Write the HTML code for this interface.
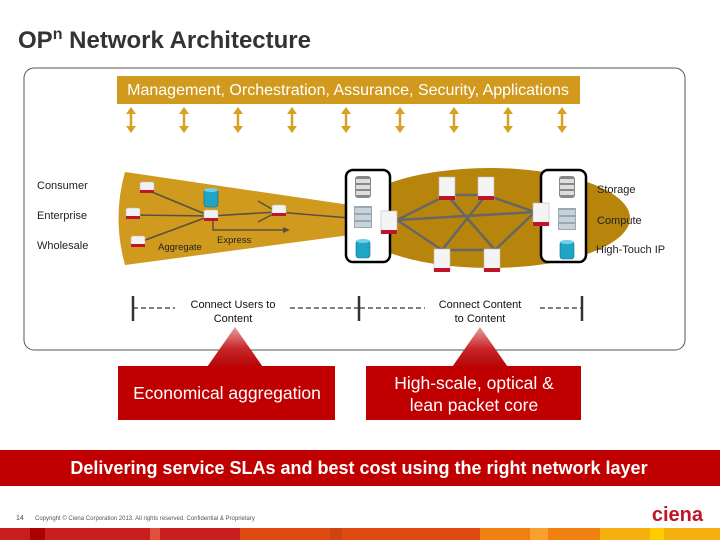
<!DOCTYPE html>
<html><head><style>
body{margin:0;width:720px;height:540px;background:#fff;overflow:hidden;font-family:"Liberation Sans",sans-serif}
</style></head><body>
<svg width="720" height="540" viewBox="0 0 720 540" xmlns="http://www.w3.org/2000/svg" font-family="Liberation Sans, sans-serif">
<defs>
<linearGradient id="tri" x1="0" y1="0" x2="0" y2="1"><stop offset="0" stop-color="#e8a0a0"/><stop offset="0.5" stop-color="#c8262a"/><stop offset="1" stop-color="#b30000"/></linearGradient>
<g id="sw"><rect x="-7" y="-6" width="14" height="10" rx="2" fill="#f2f2f2" stroke="#bbb" stroke-width="0.6"/><rect x="-7" y="2" width="14" height="3" fill="#c0142a"/></g>
<g id="tw"><rect x="-8" y="-9" width="16" height="22" fill="#f4f4f4" stroke="#bbb" stroke-width="0.6"/><rect x="-8" y="10" width="16" height="4" fill="#c0142a"/></g>
<g id="db"><rect x="-8" y="-11" width="16" height="22" rx="3" fill="#888"/><rect x="-7" y="-8" width="14" height="4" fill="#ddd"/><rect x="-7" y="-2" width="14" height="4" fill="#ddd"/><rect x="-7" y="4" width="14" height="4" fill="#ddd"/></g>
<g id="cp"><rect x="-9" y="-11" width="18" height="22" fill="#9aa8b4"/><rect x="-8" y="-9" width="16" height="5" fill="#c8d2da"/><rect x="-8" y="-2" width="16" height="5" fill="#c8d2da"/><rect x="-8" y="5" width="16" height="5" fill="#c8d2da"/></g>
<g id="cy"><rect x="-7" y="-9" width="14" height="18" rx="3" fill="#1fa5c8" stroke="#0a6a85" stroke-width="0.6"/><ellipse cx="0" cy="-8" rx="7" ry="2" fill="#6fd0e8"/></g>
</defs>
<text x="18" y="48" font-size="24" font-weight="bold" fill="#333">OP<tspan font-size="16" dy="-9">n</tspan><tspan dy="9"> Network Architecture</tspan></text>
<rect x="24" y="68" width="661" height="282" rx="10" fill="#fff" stroke="#555" stroke-width="1"/>
<rect x="117" y="76" width="463" height="28" fill="#d19a1e"/>
<text x="348" y="95" font-size="16" fill="#fff" text-anchor="middle">Management, Orchestration, Assurance, Security, Applications</text>
<g stroke="#d6a020" stroke-width="2.5" fill="#d6a020">
<g id="ar"><line x1="131" y1="113" x2="131" y2="127"/><polygon points="126,114 136,114 131,107" stroke="none"/><polygon points="126,126 136,126 131,133" stroke="none"/></g>
<use href="#ar" x="53"/><use href="#ar" x="107"/><use href="#ar" x="161"/><use href="#ar" x="215"/><use href="#ar" x="269"/><use href="#ar" x="323"/><use href="#ar" x="377"/><use href="#ar" x="431"/>
</g>
<path d="M125,172 L350,205 L350,235 L125,265 Q112,218 125,172 Z" fill="#d09a1e"/>
<ellipse cx="490" cy="218" rx="140" ry="50" fill="#b8850c"/>
<g stroke="#5a5040" stroke-width="1.5" fill="none">
<line x1="147" y1="190" x2="210" y2="216"/><line x1="133" y1="215" x2="210" y2="216"/><line x1="140" y1="242" x2="210" y2="216"/>
<line x1="210" y1="216" x2="277" y2="212"/><line x1="277" y1="212" x2="350" y2="218"/>
<line x1="258" y1="201" x2="277" y2="212"/><line x1="258" y1="222" x2="277" y2="212"/>
<polyline points="213,220 213,230 283,230"/>
</g>
<polygon points="283,227 290,230 283,233" fill="#5a5040"/>
<g stroke="#666" stroke-width="2.5">
<line x1="397" y1="220" x2="447" y2="195"/><line x1="397" y1="220" x2="442" y2="250"/><line x1="397" y1="220" x2="535" y2="212"/>
<line x1="447" y1="195" x2="486" y2="195"/><line x1="447" y1="195" x2="495" y2="250"/><line x1="486" y1="195" x2="442" y2="250"/>
<line x1="486" y1="195" x2="535" y2="212"/><line x1="442" y1="250" x2="495" y2="250"/><line x1="495" y1="250" x2="535" y2="212"/>
</g>
<use href="#sw" x="147" y="188"/><use href="#sw" x="133" y="214"/><use href="#sw" x="138" y="242"/>
<use href="#sw" x="211" y="216"/><use href="#sw" x="279" y="211"/><use href="#cy" x="211" y="198"/>
<text x="158" y="250" font-size="9.5" fill="#222">Aggregate</text>
<text x="217" y="243" font-size="9.5" fill="#222">Express</text>
<rect x="346" y="170" width="44" height="92" rx="7" fill="#fff" stroke="#000" stroke-width="2.5"/>
<rect x="541" y="170" width="45" height="92" rx="7" fill="#fff" stroke="#000" stroke-width="2.5"/>
<use href="#db" x="363" y="187"/><use href="#cp" x="363" y="217"/><use href="#cy" x="363" y="249"/>
<use href="#db" x="567" y="187"/><use href="#cp" x="567" y="219"/><use href="#cy" x="567" y="250"/>
<use href="#tw" x="389" y="220"/><use href="#tw" x="541" y="212"/>
<use href="#tw" x="447" y="186"/><use href="#tw" x="486" y="186"/>
<use href="#tw" x="442" y="258"/><use href="#tw" x="492" y="258"/>
<g font-size="11" fill="#222">
<text x="37" y="189">Consumer</text><text x="37" y="219">Enterprise</text><text x="37" y="249">Wholesale</text>
<text x="597" y="193">Storage</text><text x="597" y="224">Compute</text><text x="596" y="253">High-Touch IP</text>
</g>
<g stroke="#333" stroke-width="1.3" stroke-dasharray="5,3">
<line x1="133" y1="308" x2="175" y2="308"/><line x1="290" y1="308" x2="358" y2="308"/><line x1="360" y1="308" x2="425" y2="308"/><line x1="540" y1="308" x2="581" y2="308"/>
</g>
<g stroke="#333" stroke-width="2.5"><line x1="133" y1="296" x2="133" y2="321"/><line x1="359" y1="296" x2="359" y2="321"/><line x1="582" y1="296" x2="582" y2="321"/></g>
<g font-size="11" fill="#111" text-anchor="middle">
<text x="233" y="308">Connect Users to</text><text x="233" y="322">Content</text>
<text x="480" y="308">Connect Content</text><text x="480" y="322">to Content</text>
</g>
<polygon points="235,327 205,370 265,370" fill="url(#tri)"/>
<polygon points="480,327 450,370 510,370" fill="url(#tri)"/>
<rect x="118" y="366" width="217" height="54" fill="#c00000"/>
<rect x="366" y="366" width="215" height="54" fill="#c00000"/>
<text x="227" y="399" font-size="17.5" fill="#fff" text-anchor="middle">Economical aggregation</text>
<text x="474" y="389" font-size="17.5" fill="#fff" text-anchor="middle">High-scale, optical &amp;</text>
<text x="474" y="411" font-size="17.5" fill="#fff" text-anchor="middle">lean packet core</text>
<rect x="0" y="450" width="720" height="36" fill="#c00000"/>
<text x="359" y="474" font-size="18" font-weight="bold" fill="#fff" text-anchor="middle">Delivering service SLAs and best cost using the right network layer</text>
<text x="16" y="520" font-size="7" fill="#444">14</text>
<text x="35" y="520" font-size="6" fill="#555">Copyright © Ciena Corporation 2013. All rights reserved. Confidential &amp; Proprietary</text>
<text x="703" y="521" font-size="20" font-weight="bold" fill="#c0142a" text-anchor="end">ciena</text>
<rect x="0" y="528" width="240" height="12" fill="#c81e1e"/>
<rect x="240" y="528" width="240" height="12" fill="#e04a10"/>
<rect x="480" y="528" width="120" height="12" fill="#f08010"/>
<rect x="600" y="528" width="120" height="12" fill="#f6b010"/>
<rect x="30" y="528" width="15" height="12" fill="#a00"/><rect x="150" y="528" width="10" height="12" fill="#e0503c"/><rect x="330" y="528" width="12" height="12" fill="#c41"/><rect x="530" y="528" width="18" height="12" fill="#f9a030"/><rect x="650" y="528" width="14" height="12" fill="#fc0"/>
</svg>
</body></html>
